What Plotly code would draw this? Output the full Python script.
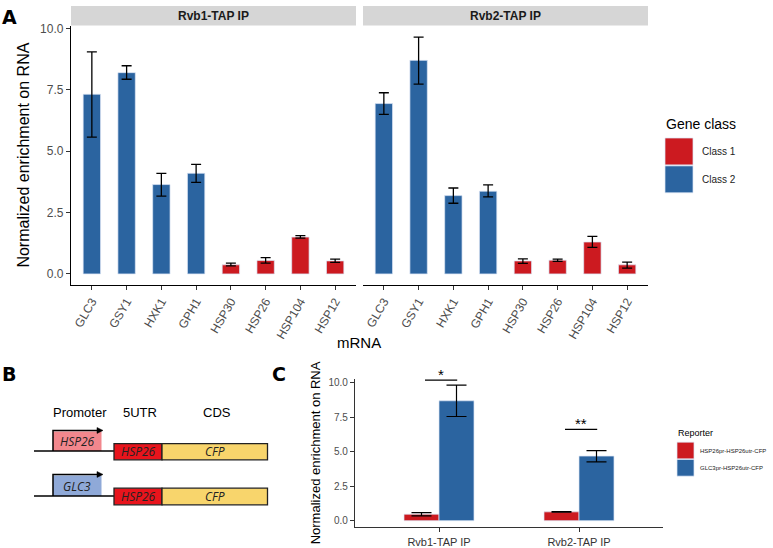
import plotly.graph_objects as go

W, H = 773, 548

# ---------------- Data: panel A ----------------
genes = ["GLC3", "GSY1", "HXK1", "GPH1", "HSP30", "HSP26", "HSP104", "HSP12"]
gene_class = ["Class 2", "Class 2", "Class 2", "Class 2", "Class 1", "Class 1", "Class 1", "Class 1"]
rvb1_mean = [7.32, 8.20, 3.64, 4.10, 0.37, 0.55, 1.50, 0.53]
rvb1_lo = [5.57, 7.93, 3.17, 3.73, 0.33, 0.44, 1.46, 0.47]
rvb1_hi = [9.05, 8.48, 4.10, 4.46, 0.44, 0.66, 1.56, 0.60]
rvb2_mean = [6.94, 8.70, 3.19, 3.37, 0.53, 0.56, 1.30, 0.37]
rvb2_lo = [6.50, 7.73, 2.88, 3.14, 0.43, 0.51, 1.08, 0.24]
rvb2_hi = [7.38, 9.65, 3.50, 3.63, 0.61, 0.60, 1.53, 0.48]
facets = ["Rvb1-TAP IP", "Rvb2-TAP IP"]
class_names = ["Class 1", "Class 2"]

# ---------------- Data: panel C ----------------
ip_groups = ["Rvb1-TAP IP", "Rvb2-TAP IP"]
reporters = ["HSP26pr-HSP26utr-CFP", "GLC3pr-HSP26utr-CFP"]
hsp26_mean = [0.47, 0.64]
hsp26_lo = [0.35, 0.62]
hsp26_hi = [0.58, 0.66]
glc3_mean = [8.70, 4.69]
glc3_lo = [7.56, 4.27]
glc3_hi = [9.84, 5.09]
sig_labels = ["*", "**"]
sig_y = [10.2, 6.63]

y_ticks = [0.0, 2.5, 5.0, 7.5, 10.0]
y_ticktext = ["0.0", "2.5", "5.0", "7.5", "10.0"]

RED = "#CC1A20"
BLUE = "#2B64A0"
colors = {"Class 1": RED, "Class 2": BLUE}
TICKCOL = "#4D4D4D"
FONT = "Liberation Sans, Arial, sans-serif"


def px(x):
    return x / W


def py(y):
    return 1 - y / H


fig = go.Figure()

# ---------------- Panel A bars ----------------
for fi, (means, lo, hi) in enumerate([(rvb1_mean, rvb1_lo, rvb1_hi), (rvb2_mean, rvb2_lo, rvb2_hi)]):
    xa = "x" if fi == 0 else "x2"
    for cname in class_names:
        idx = [i for i, c in enumerate(gene_class) if c == cname]
        xs = [genes[i] for i in idx]
        ys = [means[i] for i in idx]
        eplus = [hi[i] - means[i] for i in idx]
        eminus = [means[i] - lo[i] for i in idx]
        fig.add_trace(go.Bar(
            x=xs, y=ys, xaxis=xa, yaxis="y", width=0.5,
            marker=dict(color=colors[cname], line=dict(color="rgba(220,230,245,0.9)", width=0.8)),
            error_y=dict(type="data", array=eplus, arrayminus=eminus, symmetric=False,
                         color="black", thickness=1.3, width=5),
            showlegend=False, name=cname,
        ))

# ---------------- Panel C bars ----------------
gidx = list(range(len(ip_groups)))
for means, lo, hi, col, off in [(hsp26_mean, hsp26_lo, hsp26_hi, RED, -0.125),
                                (glc3_mean, glc3_lo, glc3_hi, BLUE, 0.125)]:
    fig.add_trace(go.Bar(
        x=[g + off for g in gidx], y=means, xaxis="x3", yaxis="y3", width=0.25,
        marker=dict(color=col, line=dict(color="rgba(220,230,245,0.9)", width=0.8)),
        error_y=dict(type="data", array=[h - m for h, m in zip(hi, means)],
                     arrayminus=[m - l for m, l in zip(means, lo)], symmetric=False,
                     color="black", thickness=1.2, width=10),
        showlegend=False,
    ))

axis_common = dict(showgrid=False, zeroline=False, ticks="outside", ticklen=4,
                   tickcolor="#333333", tickwidth=1,
                   tickfont=dict(family=FONT, size=12, color=TICKCOL))

fig.update_layout(
    width=W, height=H, autosize=False,
    margin=dict(l=0, r=0, t=0, b=0),
    paper_bgcolor="white", plot_bgcolor="white",
    barmode="overlay",
    font=dict(family=FONT),
    xaxis=dict(domain=[px(71), px(356)], anchor="y", type="category",
               categoryorder="array", categoryarray=genes, range=[-0.6, 7.6],
               showline=True, linecolor="black", linewidth=1.3, tickangle=-60,
               **axis_common),
    xaxis2=dict(domain=[px(363), px(648)], anchor="y", type="category",
                categoryorder="array", categoryarray=genes, range=[-0.6, 7.6],
                showline=True, linecolor="black", linewidth=1.3, tickangle=-60,
                **axis_common),
    yaxis=dict(domain=[py(287), py(22)], anchor="x", range=[-0.44, 10.12],
               tickvals=y_ticks, ticktext=y_ticktext,
               showline=True, linecolor="black", linewidth=1.3,
               title=dict(text="Normalized enrichment on RNA",
                          font=dict(family=FONT, size=16, color="black"), standoff=6),
               **axis_common),
    xaxis3=dict(domain=[px(355), px(663)], anchor="y3", range=[-0.6, 1.6],
                tickvals=gidx, ticktext=ip_groups,
                showline=True, linecolor="#333333", linewidth=1.2,
                **{**axis_common, "tickfont": dict(family=FONT, size=11, color="#333333")}),
    yaxis3=dict(domain=[py(535), py(383)], anchor="x3", range=[-0.48, 10.31],
                tickvals=y_ticks, ticktext=y_ticktext,
                showline=True, linecolor="#333333", linewidth=1.2,
                title=dict(text="Normalized enrichment on RNA",
                           font=dict(family=FONT, size=13, color="black"), standoff=4),
                **{**axis_common, "tickfont": dict(family=FONT, size=10, color=TICKCOL)}),
)

shapes = []
annos = []

# Facet strips
for (x0, x1), label in zip([(71, 356), (363, 648)], facets):
    shapes.append(dict(type="rect", xref="paper", yref="paper",
                       x0=px(x0), x1=px(x1), y0=py(22), y1=py(2),
                       fillcolor="#D6D6D6", line=dict(width=0), layer="below"))
    annos.append(dict(xref="paper", yref="paper", x=px((x0 + x1) / 2), y=py(12),
                      text="<b>%s</b>" % label, showarrow=False,
                      font=dict(family=FONT, size=12, color="#1A1A1A"),
                      xanchor="center", yanchor="middle"))

# x title A
annos.append(dict(xref="paper", yref="paper", x=px(359), y=py(346), text="mRNA",
                  showarrow=False, font=dict(family=FONT, size=15, color="black"),
                  xanchor="center", yanchor="middle"))

# Legend A (Gene class)
annos.append(dict(xref="paper", yref="paper", x=px(664), y=py(123), text="Gene class",
                  showarrow=False, font=dict(family=FONT, size=14, color="black"),
                  xanchor="left", yanchor="middle"))
for i, cname in enumerate(class_names):
    y0 = 137 + i * 28.5
    shapes.append(dict(type="rect", xref="paper", yref="paper",
                       x0=px(665), x1=px(693), y0=py(y0 + 27.5), y1=py(y0),
                       fillcolor=colors[cname], line=dict(color="rgba(220,230,245,0.9)", width=0.8)))
    annos.append(dict(xref="paper", yref="paper", x=px(700), y=py(y0 + 14), text=cname,
                      showarrow=False, font=dict(family=FONT, size=10, color="#222222"),
                      xanchor="left", yanchor="middle"))

# Legend C (Reporter)
annos.append(dict(xref="paper", yref="paper", x=px(676), y=py(439), text="Reporter",
                  showarrow=False, font=dict(family=FONT, size=9, color="black"),
                  xanchor="left", yanchor="middle"))
for i, (rname, col) in enumerate(zip(reporters, [RED, BLUE])):
    y0 = 448 + i * 17.7
    shapes.append(dict(type="rect", xref="paper", yref="paper",
                       x0=px(677), x1=px(694), y0=py(y0 + 17), y1=py(y0),
                       fillcolor=col, line=dict(color="rgba(220,230,245,0.9)", width=0.8)))
    annos.append(dict(xref="paper", yref="paper", x=px(698), y=py(y0 + 8.5), text=rname,
                      showarrow=False, font=dict(family=FONT, size=6, color="#222222"),
                      xanchor="left", yanchor="middle"))

# Significance brackets in C
for g, lab, yv in zip(gidx, sig_labels, sig_y):
    shapes.append(dict(type="line", xref="x3", yref="y3", x0=g - 0.1, x1=g + 0.13,
                       y0=yv, y1=yv, line=dict(color="black", width=1.3)))
    annos.append(dict(xref="x3", yref="y3", x=g + 0.015, y=yv, text=lab, showarrow=False,
                      font=dict(family=FONT, size=15, color="black"),
                      xanchor="center", yanchor="bottom", yshift=-5))

# Panel letters
for lab, x, y in [("A", 9, 13), ("B", 9, 378), ("C", 279, 378)]:
    annos.append(dict(xref="paper", yref="paper", x=px(x), y=py(y), text="<b>%s</b>" % lab,
                      showarrow=False, font=dict(family="DejaVu Sans, sans-serif", size=19, color="black"),
                      xanchor="center", yanchor="middle"))

# ---------------- Panel B diagram ----------------
B_FONT = "Open Sans, Liberation Sans, sans-serif"
for txt, x in [("Promoter", 80), ("5UTR", 140), ("CDS", 217)]:
    annos.append(dict(xref="paper", yref="paper", x=px(x), y=py(418), text=txt, showarrow=False,
                      font=dict(family=FONT, size=13, color="black"),
                      xanchor="center", yanchor="middle"))

rows = [dict(base=457, ptop=436, prom="HSP26", pcol="#F2878D", ctop=449.5, cbot=466),
        dict(base=503, ptop=481, prom="GLC3", pcol="#8FA9D8", ctop=495, cbot=512)]
for r in rows:
    shapes.append(dict(type="rect", xref="paper", yref="paper",
                       x0=px(53), x1=px(101.5), y0=py(r["base"]), y1=py(r["ptop"] + 1),
                       fillcolor=r["pcol"], line=dict(width=0)))
    shapes.append(dict(type="line", xref="paper", yref="paper",
                       x0=px(34), x1=px(114), y0=py(r["base"]), y1=py(r["base"]),
                       line=dict(color="black", width=1.5)))
    shapes.append(dict(type="path", xref="paper", yref="paper",
                       path="M %f %f L %f %f L %f %f" % (px(53), py(r["base"]), px(53), py(r["ptop"]),
                                                        px(98), py(r["ptop"])),
                       line=dict(color="black", width=1.5)))
    shapes.append(dict(type="path", xref="paper", yref="paper",
                       path="M %f %f L %f %f L %f %f Z" % (px(97), py(r["ptop"] - 3), px(103), py(r["ptop"]),
                                                          px(97), py(r["ptop"] + 3)),
                       fillcolor="black", line=dict(color="black", width=0.5)))
    annos.append(dict(xref="paper", yref="paper", x=px(77), y=py((r["ptop"] + r["base"]) / 2 + 1),
                      text="<i>%s</i>" % r["prom"], showarrow=False,
                      font=dict(family=B_FONT, size=12, color="#222222"),
                      xanchor="center", yanchor="middle"))
    shapes.append(dict(type="rect", xref="paper", yref="paper",
                       x0=px(114), x1=px(162), y0=py(r["cbot"]), y1=py(r["ctop"]),
                       fillcolor="#E8141C", line=dict(color="#222222", width=1.3)))
    annos.append(dict(xref="paper", yref="paper", x=px(138), y=py((r["ctop"] + r["cbot"]) / 2),
                      text="<i>HSP26</i>", showarrow=False,
                      font=dict(family=B_FONT, size=12, color="#222222"),
                      xanchor="center", yanchor="middle"))
    shapes.append(dict(type="rect", xref="paper", yref="paper",
                       x0=px(162), x1=px(267.5), y0=py(r["cbot"]), y1=py(r["ctop"]),
                       fillcolor="#F8D56C", line=dict(color="#222222", width=1.3)))
    annos.append(dict(xref="paper", yref="paper", x=px(215), y=py((r["ctop"] + r["cbot"]) / 2),
                      text="<i>CFP</i>", showarrow=False,
                      font=dict(family=B_FONT, size=12, color="#222222"),
                      xanchor="center", yanchor="middle"))

fig.update_layout(shapes=shapes, annotations=annos)

# Remove the default page margin so the figure sits at the window's top-left corner.
fig.write_html("out.html", config={"displayModeBar": False},
               post_script="document.body.style.margin='0px';document.body.style.overflow='hidden';")
